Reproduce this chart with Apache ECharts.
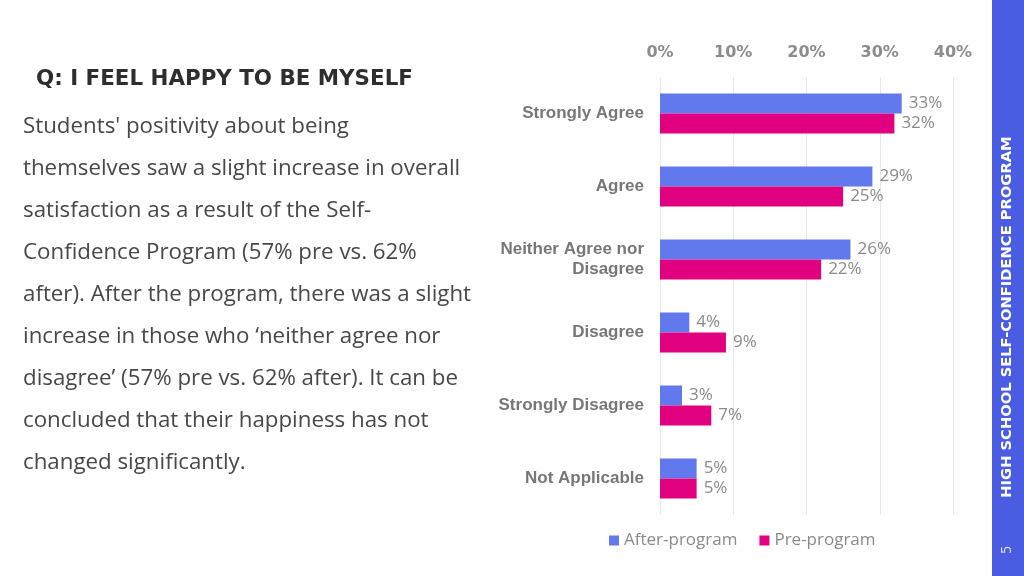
<!DOCTYPE html>
<html>
<head>
<meta charset="utf-8">
<script src="https://cdn.jsdelivr.net/npm/echarts@6/dist/echarts.min.js"></script>
<style>
  html, body { margin: 0; padding: 0; background: #fff; }
  #chart { width: 1024px; height: 576px; }
</style>
</head>
<body>
<div id="chart"></div>
<script>
// survey answers, top to bottom
const categories = [
  "Strongly Agree",
  "Agree",
  "Neither Agree nor\nDisagree",
  "Disagree",
  "Strongly Disagree",
  "Not Applicable",
];
const afterProgram = [33, 29, 26, 4, 3, 5];
const preProgram = [32, 25, 22, 9, 7, 5];
const xTicks = { min: 0, max: 40, interval: 10 };

const title = "Q: I FEEL HAPPY TO BE MYSELF";
const bodyLines = [
  "Students' positivity about being",
  "themselves saw a slight increase in overall",
  "satisfaction as a result of the Self-",
  "Confidence Program (57% pre vs. 62%",
  "after). After the program, there was a slight",
  "increase in those who \u2018neither agree nor",
  "disagree\u2019 (57% pre vs. 62% after). It can be",
  "concluded that their happiness has not",
  "changed significantly.",
];
const sideText = "HIGH SCHOOL SELF-CONFIDENCE PROGRAM";
const pageNo = "5";

const blue = "#6279ee";
const pink = "#e1007f";

const chart = echarts.init(document.getElementById("chart"), null, { renderer: "canvas" });

const graphics = [
  {
    type: "rect",
    shape: { x: 992, y: 0, width: 32, height: 576 },
    style: { fill: "#4a5de2" },
    silent: true,
  },
  {
    type: "text",
    x: 1007,
    y: 317,
    rotation: Math.PI / 2,
    style: {
      text: sideText,
      fill: "#fff",
      font: "bold 14.7px 'DejaVu Sans', sans-serif",
      align: "center",
      verticalAlign: "middle",
    },
  },
  {
    type: "text",
    x: 1007,
    y: 550,
    rotation: Math.PI / 2,
    style: {
      text: pageNo,
      fill: "#dfe3ff",
      font: "14px 'Open Sans', sans-serif",
      align: "center",
      verticalAlign: "middle",
    },
  },
  {
    type: "text",
    x: 36,
    y: 79,
    style: {
      text: title,
      fill: "#2e2e2e",
      font: "bold 21.4px 'DejaVu Sans', sans-serif",
      verticalAlign: "middle",
    },
  },
];
bodyLines.forEach((line, i) => {
  graphics.push({
    type: "text",
    x: 23,
    y: 127 + i * 42,
    style: {
      text: line,
      fill: "#484848",
      font: "22.3px 'Open Sans', sans-serif",
      verticalAlign: "middle",
    },
  });
});

const labelStyle = {
  show: true,
  position: "right",
  distance: 7,
  formatter: "{c}%",
  color: "#8a8a8a",
  fontSize: 17,
  fontFamily: "'Open Sans', sans-serif",
};

const options = {
  backgroundColor: "#fff",
  animation: false,
  grid: { left: 660, right: 71, top: 77, bottom: 61 },
  legend: {
    bottom: 22,
    left: 604,
    itemWidth: 10,
    itemHeight: 10,
    itemGap: 22,
    icon: "rect",
    textStyle: { color: "#8a8a8a", fontSize: 17, fontFamily: "'Open Sans', sans-serif" },
    data: ["After-program", "Pre-program"],
  },
  xAxis: {
    type: "value",
    position: "top",
    min: xTicks.min,
    max: xTicks.max,
    interval: xTicks.interval,
    axisLine: { show: false },
    axisTick: { show: false },
    splitLine: { lineStyle: { color: "#e8e8e8" } },
    axisLabel: {
      formatter: "{value}%",
      color: "#8c8c8c",
      fontSize: 16,
      fontWeight: "bold",
      fontFamily: "'DejaVu Sans', sans-serif",
      margin: 16,
    },
  },
  yAxis: {
    type: "category",
    inverse: true,
    data: categories,
    axisLine: { show: false },
    axisTick: { show: false },
    axisLabel: {
      color: "#777",
      fontSize: 17,
      fontWeight: "bold",
      fontFamily: "'Liberation Sans', Arial, sans-serif",
      margin: 16,
      lineHeight: 20,
    },
  },
  series: [
    {
      name: "After-program",
      type: "bar",
      data: afterProgram,
      barWidth: 20,
      barGap: "0%",
      itemStyle: { color: blue },
      label: labelStyle,
    },
    {
      name: "Pre-program",
      type: "bar",
      data: preProgram,
      barWidth: 20,
      itemStyle: { color: pink },
      label: labelStyle,
    },
  ],
  graphic: graphics,
};

chart.setOption(options);
</script>
</body>
</html>
